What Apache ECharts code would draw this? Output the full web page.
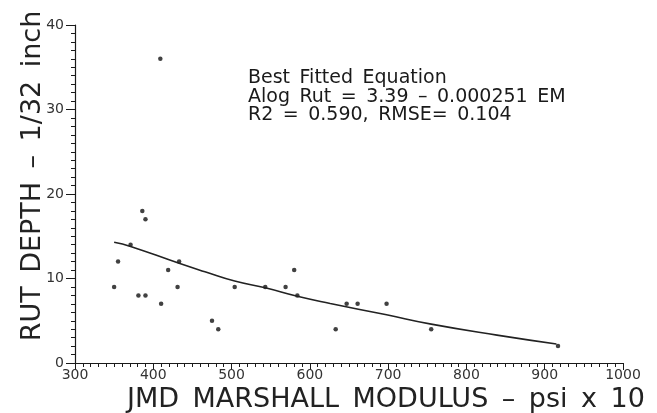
<!DOCTYPE html>
<html>
<head>
<meta charset="utf-8">
<script src="https://cdn.jsdelivr.net/npm/echarts@6/dist/echarts.min.js"></script>
<style>
  html, body { margin: 0; padding: 0; background: #fff; }
  #chart { width: 657px; height: 413px; }
</style>
</head>
<body>
<div id="chart"></div>
<script>
// measured points (modulus, rut depth)
const modulus = [350, 355, 371, 381, 386, 390, 390, 409, 410, 419, 433, 431, 475, 483, 504, 543, 569, 580, 584, 633, 647, 661, 698, 755, 917];
const rutDepth = [9, 12, 14, 8, 18, 17, 8, 36, 7, 11, 12, 9, 5, 4, 9, 9, 9, 11, 8, 4, 7, 7, 7, 4, 2];

// fitted curve
const fitX = [350, 371, 433, 466, 504, 543, 584, 626, 698, 755, 839, 915];
const fitY = [14.3, 13.8, 11.8, 10.8, 9.7, 8.9, 7.9, 7.05, 5.7, 4.6, 3.3, 2.25];

const xTicks = [300, 1000, 100];
const yTicks = [0, 40, 10];

// the plotter font has wide word gaps, so en spaces (U+2002) are used between words
const sp = '\u2002';
const noteLines = ['Best Fitted Equation', 'Alog Rut = 3.39 \u2013 0.000251 EM', 'R2 = 0.590, RMSE= 0.104'].map(s => s.split(' ').join(sp));
const xTitle = ['JMD', 'MARSHALL', 'MODULUS', '\u2013', 'psi', 'x', '10'].join(sp);
const yTitle = ['RUT', 'DEPTH', '\u2013', '1/32', 'inch'].join(sp);

const ink = '#1a1a1a';
const font = 'DejaVu Sans';

const chart = echarts.init(document.getElementById('chart'));

chart.setOption({
    backgroundColor: '#fff',
    animation: false,
    grid: { left: 75, right: 34, top: 25, bottom: 50 },
    xAxis: {
        type: 'value', min: xTicks[0], max: xTicks[1], interval: xTicks[2],
        axisLine: { lineStyle: { color: ink, width: 1.2 } },
        axisTick: { length: 7, lineStyle: { color: ink } },
        minorTick: { show: true, splitNumber: 10, length: 4, lineStyle: { color: ink } },
        axisLabel: { color: '#333', fontFamily: font, fontSize: 14, margin: 5, formatter: v => String(v) },
        splitLine: { show: false }
    },
    yAxis: {
        type: 'value', min: yTicks[0], max: yTicks[1], interval: yTicks[2],
        axisLine: { show: true, lineStyle: { color: ink, width: 1.2 } },
        axisTick: { show: true, length: 9, lineStyle: { color: ink } },
        minorTick: { show: true, splitNumber: 10, length: 4, lineStyle: { color: ink } },
        axisLabel: { color: '#333', fontFamily: font, fontSize: 14, margin: 11 },
        splitLine: { show: false }
    },
    graphic: [
        {
            type: 'text', left: 248, top: 69,
            style: { text: noteLines.join('\n'), font: '19px "DejaVu Sans"', fill: ink, lineHeight: 18.5 }
        },
        {
            type: 'text', left: 127, top: 386,
            style: { text: xTitle, font: '27px "DejaVu Sans"', fill: '#222' }
        },
        {
            type: 'text', x: 19, y: 176, rotation: Math.PI / 2,
            style: { text: yTitle, font: '27px "DejaVu Sans"', fill: '#222', align: 'center', verticalAlign: 'top' }
        }
    ],
    series: [
        {
            type: 'line', data: fitX.map((x, i) => [x, fitY[i]]),
            smooth: true, showSymbol: false,
            lineStyle: { color: '#222', width: 1.6 }
        },
        {
            type: 'scatter', data: modulus.map((x, i) => [x, rutDepth[i]]),
            symbolSize: 4.5, itemStyle: { color: '#111' }
        }
    ]
});
</script>
</body>
</html>
